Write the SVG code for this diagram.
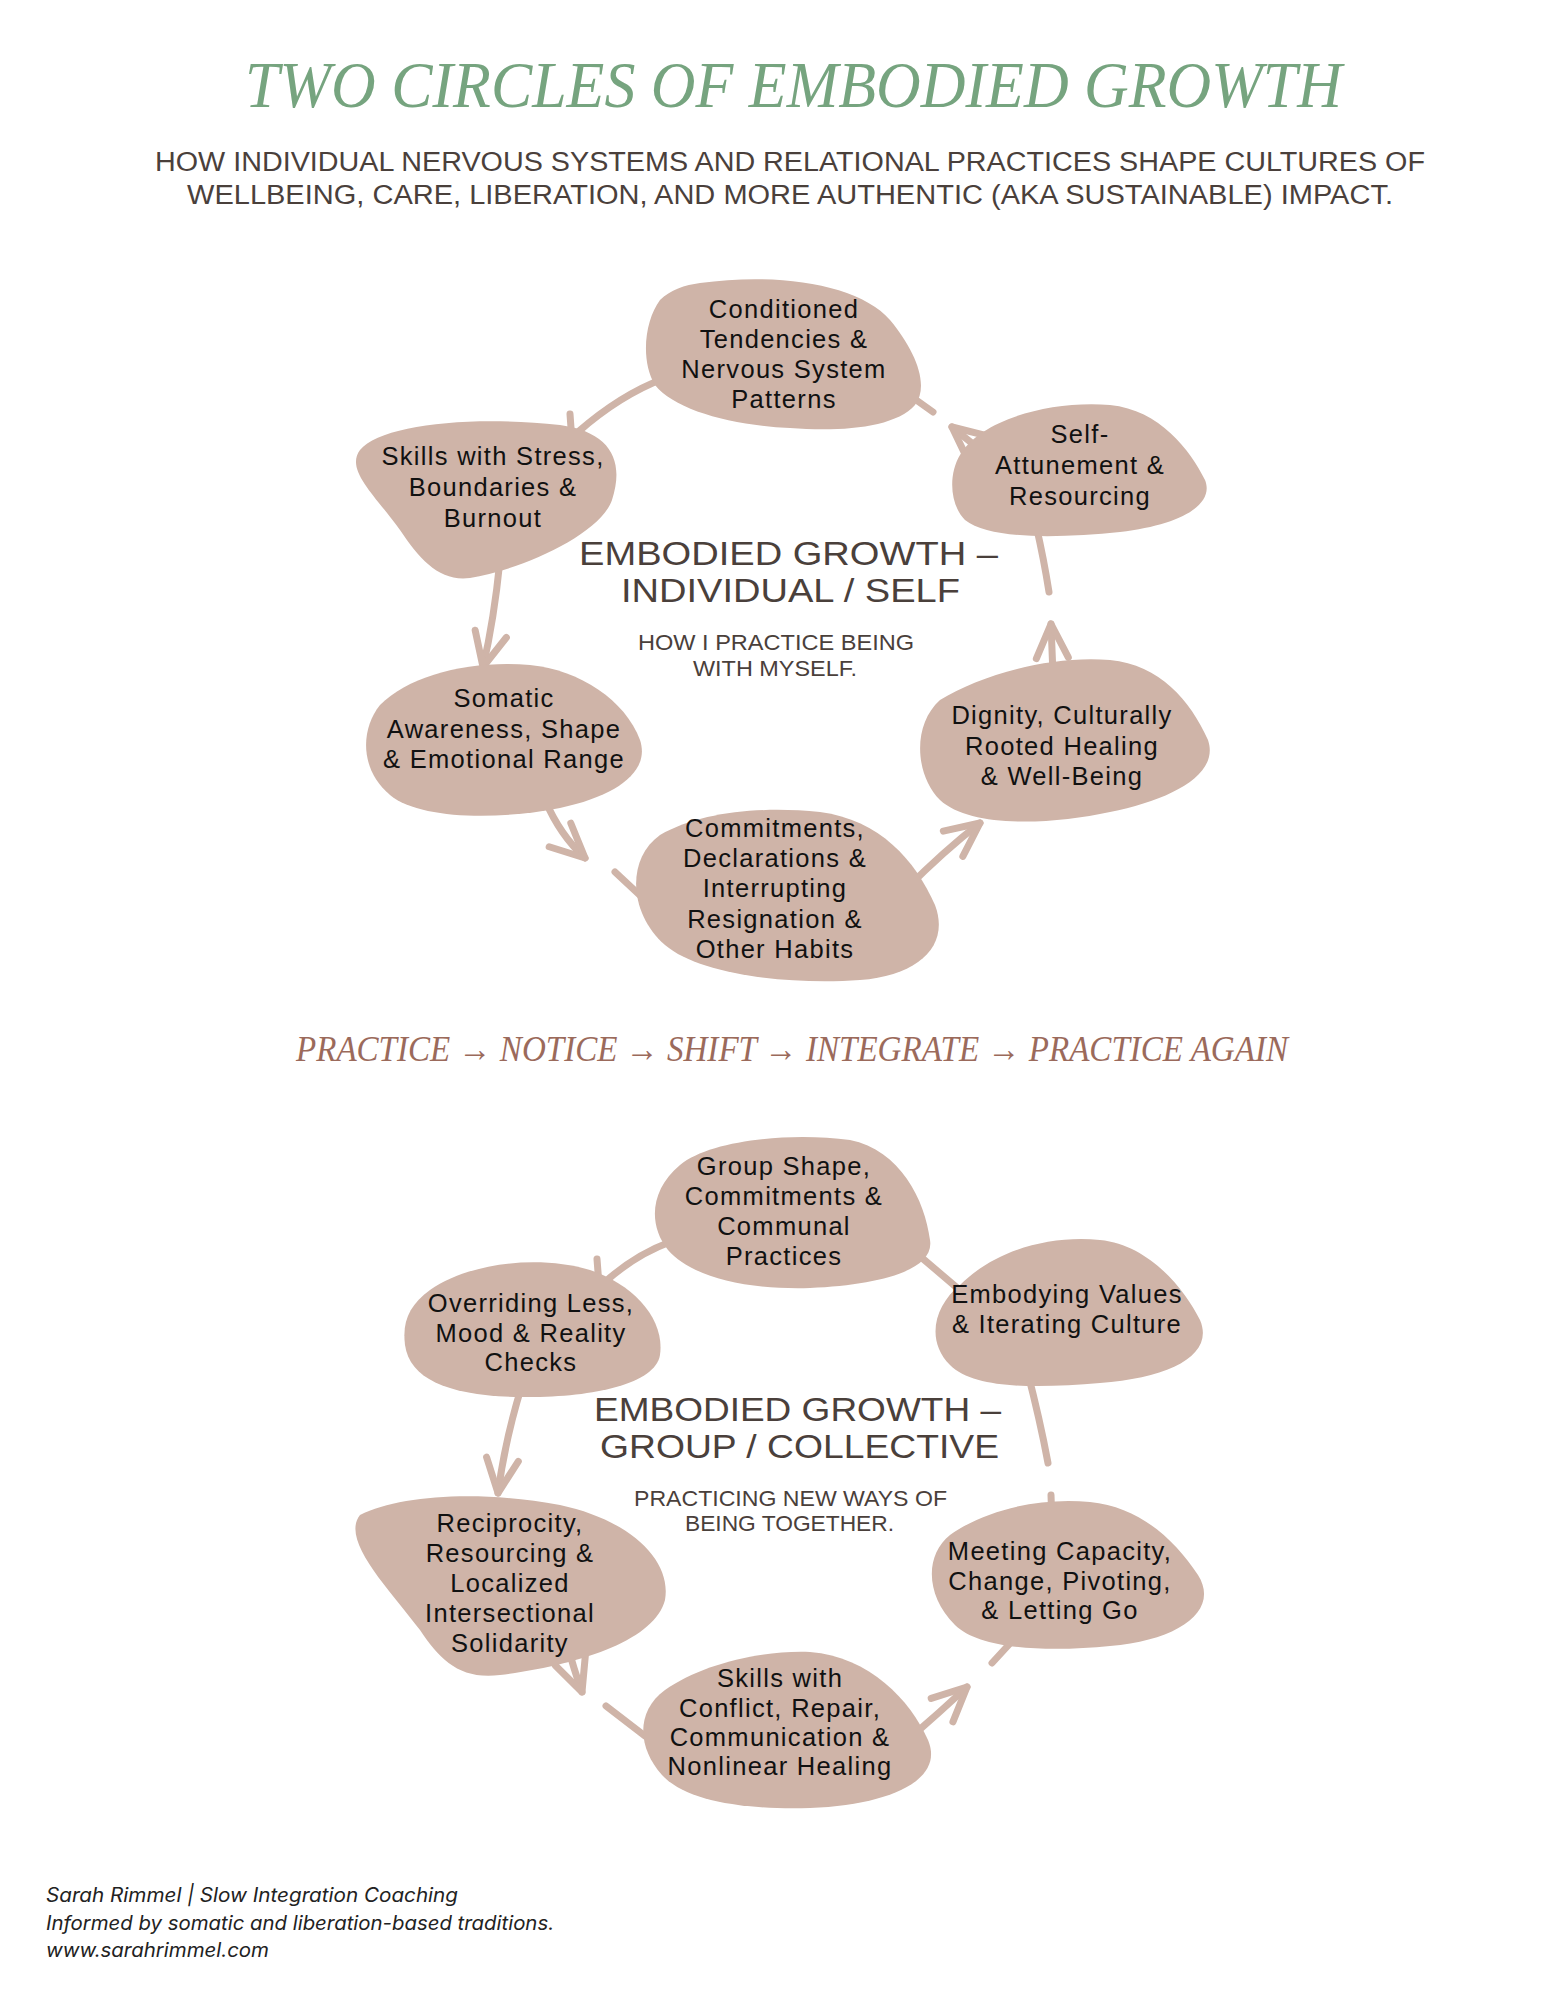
<svg xmlns="http://www.w3.org/2000/svg" width="1545" height="1999" viewBox="0 0 1545 1999">
<style>
.bg{fill:#ffffff}
.blob{fill:#cfb4a8}
.con{fill:none;stroke:#cfb4a8;stroke-width:7;stroke-linecap:round;stroke-linejoin:round}
.nt{font-family:"Liberation Sans",Arial,sans-serif;font-size:25.5px;letter-spacing:1.3px;fill:#111111;text-anchor:middle}
.title{font-family:"Liberation Serif",serif;font-style:italic;font-size:66px;fill:#76a47f}
.sub{font-family:"Liberation Sans",Arial,sans-serif;font-size:27px;fill:#4a403b}
.ct{font-family:"Liberation Sans",Arial,sans-serif;font-size:33px;fill:#4a403b}
.cs{font-family:"Liberation Sans",Arial,sans-serif;font-size:22px;fill:#4a403b}
.cyc{font-family:"Liberation Serif",serif;font-style:italic;font-size:36px;fill:#9b6a5b}
.foot{font-family:"Inter","Liberation Sans",sans-serif;font-style:italic;font-size:19.5px;fill:#222222}
</style>
<defs>
<marker id="chev" viewBox="-40 -22 46 44" refX="0" refY="0" markerWidth="46" markerHeight="44" markerUnits="userSpaceOnUse" orient="auto">
<path d="M -34,-16 L 0,0 L -34,16" fill="none" stroke="#cfb4a8" stroke-width="7" stroke-linecap="round" stroke-linejoin="round"/>
</marker>
</defs>
<rect class="bg" x="0" y="0" width="1545" height="1999"/>

<g id="header">
<text class="title" x="245" y="107" textLength="1097" lengthAdjust="spacingAndGlyphs">TWO CIRCLES OF EMBODIED GROWTH</text>
<text class="sub" x="155" y="171" textLength="1270" lengthAdjust="spacingAndGlyphs">HOW INDIVIDUAL NERVOUS SYSTEMS AND RELATIONAL PRACTICES SHAPE CULTURES OF</text>
<text class="sub" x="187" y="204" textLength="1206" lengthAdjust="spacingAndGlyphs">WELLBEING, CARE, LIBERATION, AND MORE AUTHENTIC (AKA SUSTAINABLE) IMPACT.</text>
</g>

<g id="connectors">
<!-- top circle -->
<path class="con" d="M 665,378 Q 620,395 578,432"/>
<path class="con" d="M 570,414 L 572,442"/>
<path class="con" d="M 500,560 Q 494,620 483,667" marker-end="url(#chev)"/>
<path class="con" d="M 545,800 Q 560,835 585,858" marker-end="url(#chev)"/>
<path class="con" d="M 615,872 L 645,900"/>
<path class="con" d="M 905,890 Q 945,850 980,823" marker-end="url(#chev)"/>
<path class="con" d="M 1053,675 L 1051,624" marker-end="url(#chev)"/>
<path class="con" d="M 1049,592 Q 1044,560 1036,525"/>
<path class="con" d="M 995,462 L 952,427" marker-end="url(#chev)"/>
<path class="con" d="M 905,392 L 933,412"/>
<!-- bottom circle -->
<path class="con" d="M 670,1242 Q 635,1255 605,1282"/>
<path class="con" d="M 597,1259 L 599,1285"/>
<path class="con" d="M 522,1385 Q 505,1440 498,1493" marker-end="url(#chev)"/>
<path class="con" d="M 566,1640 Q 574,1670 582,1692" marker-end="url(#chev)"/>
<path class="con" d="M 606,1706 L 645,1736"/>
<path class="con" d="M 910,1738 Q 940,1712 967,1687" marker-end="url(#chev)"/>
<path class="con" d="M 992,1663 L 1015,1638"/>
<path class="con" d="M 1027,1370 Q 1040,1420 1048,1463"/>
<path class="con" d="M 1051,1495 L 1052,1525"/>
<path class="con" d="M 915,1252 L 962,1292"/>
</g>

<g id="node-conditioned">
<path class="blob" d="M 700,283 C 780,272 860,285 890,320 C 915,350 930,385 915,405 C 895,428 840,432 790,428 C 730,425 675,410 655,385 C 640,360 645,320 660,300 C 670,290 685,285 700,283 Z"/>
<text class="nt" x="784" y="318">Conditioned</text>
<text class="nt" x="784" y="348">Tendencies &amp;</text>
<text class="nt" x="784" y="378">Nervous System</text>
<text class="nt" x="784" y="408">Patterns</text>
</g>

<g id="node-skills-stress">
<path class="blob" d="M 360,450 C 380,425 470,415 560,425 C 610,432 625,460 612,500 C 600,535 520,570 470,578 C 440,582 420,560 400,530 C 375,495 345,470 360,450 Z"/>
<text class="nt" x="493" y="465">Skills with Stress,</text>
<text class="nt" x="493" y="496">Boundaries &amp;</text>
<text class="nt" x="493" y="527">Burnout</text>
</g>

<g id="node-self-attunement">
<path class="blob" d="M 960,455 C 980,420 1050,400 1110,405 C 1160,410 1190,450 1205,480 C 1215,505 1180,525 1120,532 C 1060,538 990,540 965,520 C 950,505 948,475 960,455 Z"/>
<text class="nt" x="1080" y="443">Self-</text>
<text class="nt" x="1080" y="474">Attunement &amp;</text>
<text class="nt" x="1080" y="505">Resourcing</text>
</g>

<g id="center-individual">
<text class="ct" x="579" y="565" textLength="419" lengthAdjust="spacingAndGlyphs">EMBODIED GROWTH –</text>
<text class="ct" x="621" y="602" textLength="339" lengthAdjust="spacingAndGlyphs">INDIVIDUAL / SELF</text>
<text class="cs" x="638" y="650" textLength="276" lengthAdjust="spacingAndGlyphs">HOW I PRACTICE BEING</text>
<text class="cs" x="693" y="676" textLength="164" lengthAdjust="spacingAndGlyphs">WITH MYSELF.</text>
</g>

<g id="node-somatic">
<path class="blob" d="M 380,705 C 410,675 470,660 530,665 C 580,670 625,700 640,740 C 650,770 620,795 560,808 C 500,820 420,820 390,795 C 360,770 360,730 380,705 Z"/>
<text class="nt" x="504" y="707">Somatic</text>
<text class="nt" x="504" y="738">Awareness, Shape</text>
<text class="nt" x="504" y="768">&amp; Emotional Range</text>
</g>

<g id="node-dignity">
<path class="blob" d="M 940,700 C 980,675 1050,655 1110,660 C 1160,665 1190,700 1208,740 C 1220,775 1170,800 1110,812 C 1050,825 970,828 940,800 C 915,775 912,725 940,700 Z"/>
<text class="nt" x="1062" y="724">Dignity, Culturally</text>
<text class="nt" x="1062" y="755">Rooted Healing</text>
<text class="nt" x="1062" y="785">&amp; Well-Being</text>
</g>

<g id="node-commitments">
<path class="blob" d="M 660,835 C 700,812 760,806 820,812 C 880,820 915,860 935,905 C 950,945 920,975 860,980 C 790,985 700,975 665,945 C 630,915 625,860 660,835 Z"/>
<text class="nt" x="775" y="837">Commitments,</text>
<text class="nt" x="775" y="867">Declarations &amp;</text>
<text class="nt" x="775" y="897">Interrupting</text>
<text class="nt" x="775" y="928">Resignation &amp;</text>
<text class="nt" x="775" y="958">Other Habits</text>
</g>

<g id="cycle">
<text class="cyc" x="296" y="1061" textLength="992" lengthAdjust="spacingAndGlyphs">PRACTICE → NOTICE → SHIFT → INTEGRATE → PRACTICE AGAIN</text>
</g>

<g id="node-group-shape">
<path class="blob" d="M 680,1165 C 710,1140 790,1132 850,1140 C 900,1150 925,1200 930,1240 C 935,1270 880,1285 810,1288 C 740,1290 690,1275 668,1250 C 648,1225 650,1190 680,1165 Z"/>
<text class="nt" x="784" y="1175">Group Shape,</text>
<text class="nt" x="784" y="1205">Commitments &amp;</text>
<text class="nt" x="784" y="1235">Communal</text>
<text class="nt" x="784" y="1265">Practices</text>
</g>

<g id="node-overriding">
<path class="blob" d="M 430,1290 C 470,1262 540,1255 590,1270 C 635,1285 665,1320 660,1355 C 655,1385 590,1398 520,1397 C 450,1396 410,1380 405,1345 C 402,1320 410,1305 430,1290 Z"/>
<text class="nt" x="531" y="1312">Overriding Less,</text>
<text class="nt" x="531" y="1342">Mood &amp; Reality</text>
<text class="nt" x="531" y="1371">Checks</text>
</g>

<g id="node-embodying-values">
<path class="blob" d="M 960,1285 C 995,1250 1050,1235 1100,1240 C 1150,1245 1185,1290 1200,1320 C 1215,1355 1170,1378 1100,1383 C 1040,1388 975,1390 950,1365 C 925,1340 935,1305 960,1285 Z"/>
<text class="nt" x="1067" y="1303">Embodying Values</text>
<text class="nt" x="1067" y="1333">&amp; Iterating Culture</text>
</g>

<g id="center-group">
<text class="ct" x="594" y="1421" textLength="407" lengthAdjust="spacingAndGlyphs">EMBODIED GROWTH –</text>
<text class="ct" x="600" y="1458" textLength="399" lengthAdjust="spacingAndGlyphs">GROUP / COLLECTIVE</text>
<text class="cs" x="634" y="1506" textLength="313" lengthAdjust="spacingAndGlyphs">PRACTICING NEW WAYS OF</text>
<text class="cs" x="685" y="1531" textLength="209" lengthAdjust="spacingAndGlyphs">BEING TOGETHER.</text>
</g>

<g id="node-reciprocity">
<path class="blob" d="M 360,1515 C 400,1495 480,1490 560,1505 C 630,1520 672,1560 665,1600 C 655,1640 580,1665 500,1675 C 460,1680 440,1660 420,1630 C 390,1590 340,1540 360,1515 Z"/>
<text class="nt" x="510" y="1532">Reciprocity,</text>
<text class="nt" x="510" y="1562">Resourcing &amp;</text>
<text class="nt" x="510" y="1592">Localized</text>
<text class="nt" x="510" y="1622">Intersectional</text>
<text class="nt" x="510" y="1652">Solidarity</text>
</g>

<g id="node-meeting-capacity">
<path class="blob" d="M 950,1535 C 985,1510 1040,1497 1090,1502 C 1140,1507 1175,1540 1198,1575 C 1220,1610 1180,1640 1110,1646 C 1050,1652 980,1650 955,1625 C 925,1595 925,1555 950,1535 Z"/>
<text class="nt" x="1060" y="1560">Meeting Capacity,</text>
<text class="nt" x="1060" y="1590">Change, Pivoting,</text>
<text class="nt" x="1060" y="1619">&amp; Letting Go</text>
</g>

<g id="node-skills-conflict">
<path class="blob" d="M 665,1690 C 700,1665 760,1650 810,1652 C 870,1657 910,1700 928,1740 C 945,1780 890,1805 810,1808 C 740,1810 685,1800 662,1775 C 638,1748 635,1712 665,1690 Z"/>
<text class="nt" x="780" y="1687">Skills with</text>
<text class="nt" x="780" y="1717">Conflict, Repair,</text>
<text class="nt" x="780" y="1746">Communication &amp;</text>
<text class="nt" x="780" y="1775">Nonlinear Healing</text>
</g>

<g id="footer">
<text class="foot" x="46" y="1902" textLength="412" lengthAdjust="spacingAndGlyphs">Sarah Rimmel | Slow Integration Coaching</text>
<text class="foot" x="46" y="1930" textLength="508" lengthAdjust="spacingAndGlyphs">Informed by somatic and liberation-based traditions.</text>
<text class="foot" x="46" y="1957" textLength="223" lengthAdjust="spacingAndGlyphs">www.sarahrimmel.com</text>
</g>
</svg>
